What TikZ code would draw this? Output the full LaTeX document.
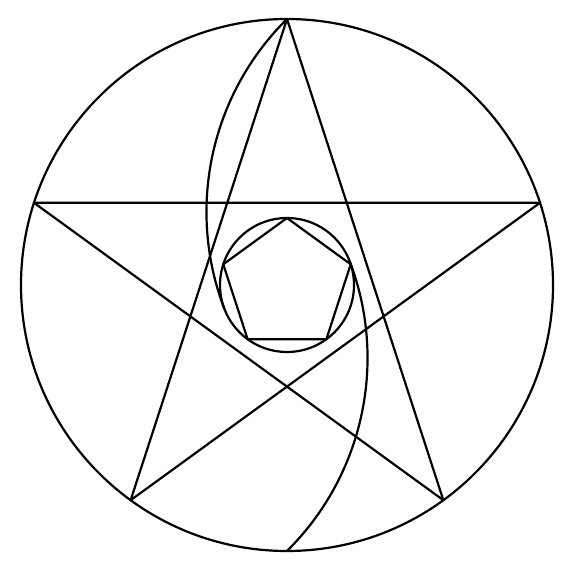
\documentclass[tikz,border=0pt]{standalone}
\usetikzlibrary{calc}
\begin{document}
\begin{tikzpicture}[x=1pt,y=1pt,line width=2.2pt,line join=round,line cap=round,
  figline/.style={draw=black}]
\useasboundingbox (0,0) rectangle (566,566);
\coordinate (C) at (287,281);
% outer pentagram vertices
\foreach \i/\a in {1/90,2/18,3/-54,4/-126,5/162}{
  \coordinate (P\i) at ($(C)+(\a:266pt)$);
  \coordinate (Q\i) at ($(C)+(\a:67pt)$);
}
\coordinate (B) at ($(C)+(-90:266pt)$);
\draw[figline] (C) circle[radius=266pt];
\draw[figline] (C) circle[radius=67pt];
\draw[figline] (P1) -- (P3) -- (P5) -- (P2) -- (P4) -- cycle;
\draw[figline] (Q1) -- (Q2) -- (Q3) -- (Q4) -- (Q5) -- cycle;
% spiral arcs
\draw[figline] (P1) arc[start angle=134.7,end angle=200.9,radius=271.5pt];
\draw[figline] (B) arc[start angle=-45.3,end angle=20.9,radius=271.5pt];
\end{tikzpicture}
\end{document}
